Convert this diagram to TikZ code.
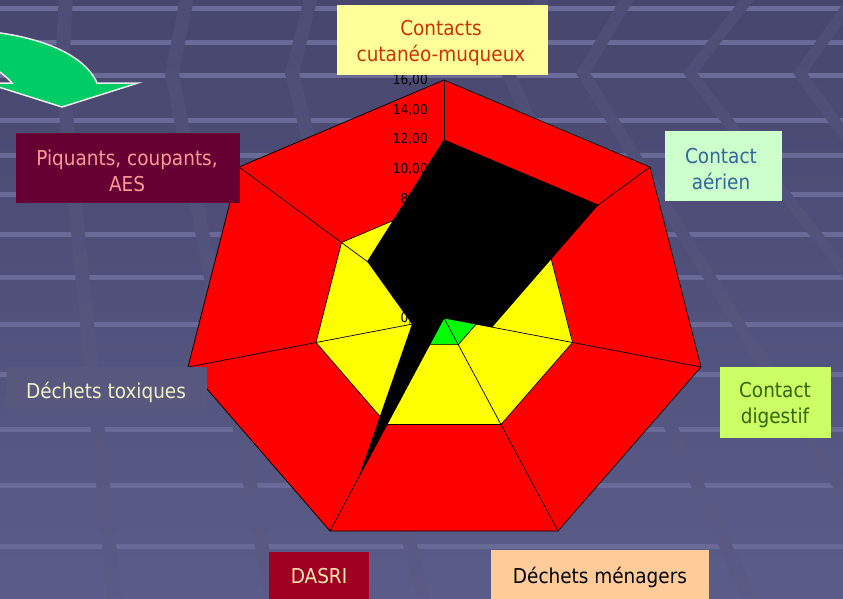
\documentclass[tikz,border=0pt]{standalone}
\usepackage{fontspec}
\setmainfont{DejaVu Sans}[FakeStretch=0.9]
\usetikzlibrary{calc}
\definecolor{bgtop}{HTML}{46466E}
\definecolor{bgbot}{HTML}{5C5C8A}
\definecolor{stripe}{HTML}{6A6A98}
\definecolor{bandtop}{HTML}{4D4D76}
\definecolor{bandbot}{HTML}{5A5A84}
\definecolor{arrowgreen}{HTML}{00CC66}
\definecolor{arrowedge}{HTML}{EBEBEB}
\definecolor{chartred}{HTML}{FF0000}
\definecolor{chartyellow}{HTML}{FFFF00}
\definecolor{chartgreen}{HTML}{00FF00}
\definecolor{cutfill}{HTML}{FFFF99}
\definecolor{cuttext}{HTML}{CC3300}
\definecolor{aerfill}{HTML}{CCFFCC}
\definecolor{aertext}{HTML}{336699}
\definecolor{digfill}{HTML}{CCFF66}
\definecolor{digtext}{HTML}{336600}
\definecolor{menfill}{HTML}{FFCC99}
\definecolor{dasfill}{HTML}{A00022}
\definecolor{dastext}{HTML}{FFE8B0}
\definecolor{toxfill}{HTML}{58587F}
\definecolor{toxtext}{HTML}{F0F0C8}
\definecolor{piqfill}{HTML}{660033}
\definecolor{piqtext}{HTML}{FF9999}
\tikzset{
  box/.style={inner sep=0pt, outer sep=0pt},
  lbl/.style={font=\fontsize{20.5}{26}\selectfont, align=center, inner sep=0pt},
  tick/.style={font=\fontsize{13.6}{14}\selectfont, anchor=east, inner sep=0pt},
  web/.style={draw=black, line width=0.7pt},
  band/.style={top color=bandtop, bottom color=bandbot},
}
\begin{document}
\begin{tikzpicture}[x=1pt,y=-1pt]
\useasboundingbox (0,0) rectangle (843,598);
% background
\shade[top color=bgtop,bottom color=bgbot] (0,0) rectangle (843,598);
\foreach \y in {6,40,73,118,153,192,232,275,322,372,427,483,544}
  \fill[stripe] (0,\y) rectangle (843,\y+5);
% chevron bands: vertex x at y=73, upper slope, lower slope
\foreach \v/\u/\s in {62/0.05/0.1, 172/0.2/0.19, 292/0.25/0.25, 508/0.46/0.46, 583/0.6/0.62, 690/0.78/0.78, 800/0.72/0.72}
  \shade[band] ({\v+\u*73-7},0) -- ({\v-7},73) -- ({\v+\s*525-7},598)
    -- ({\v+\s*525+7},598) -- ({\v+7},73) -- ({\v+\u*73+7},0) -- cycle;
% chart axes
\coordinate (C) at (444,318);
\coordinate (A0) at (444,80);
\coordinate (A1) at (650,167);
\coordinate (A2) at (701,367);
\coordinate (A3) at (558,531);
\coordinate (A4) at (330,531);
\coordinate (A5) at (188,367);
\coordinate (A6) at (239,167);
\fill[chartred] (A0) \foreach \i in {1,...,6}{ -- (A\i) } -- cycle;
\draw[web] (A0) \foreach \i in {1,...,6}{ -- (A\i) } -- cycle;
\fill[chartyellow] ($(C)!0.5!(A0)$) \foreach \i in {1,...,6}{ -- ($(C)!0.5!(A\i)$) } -- cycle;
\draw[web] ($(C)!0.5!(A0)$) \foreach \i in {1,...,6}{ -- ($(C)!0.5!(A\i)$) } -- cycle;
\fill[chartgreen] ($(C)!0.125!(A0)$) \foreach \i in {1,...,6}{ -- ($(C)!0.125!(A\i)$) } -- cycle;
\draw[web] ($(C)!0.125!(A0)$) \foreach \i in {1,...,6}{ -- ($(C)!0.125!(A\i)$) } -- cycle;
\foreach \i in {0,...,6} \draw[web] (C) -- (A\i);
\foreach \v in {0,2,...,16} \node[tick] (t\v) at (428,{318-\v*14.875}) {\v,00};
\foreach \i/\f in {0/0.75,1/0.75,2/0.1875,3/0,4/0.75,5/0.125,6/0.375}
  \coordinate (B\i) at ($(C)!\f!(A\i)$);
\fill[black] (B0) -- (B1) -- (B2) -- (B3) -- (B4) -- (B5) -- (B6) -- cycle;
% label boxes
\node[box, fill=cutfill, minimum width=211pt, minimum height=70pt] (cut) at (442.5,40) {};
\node[lbl, text=cuttext] (cuttxt) at (441,43) {Contacts\\cutanéo-muqueux};
\node[box, fill=aerfill, minimum width=117pt, minimum height=70pt] (aer) at (723.5,166) {};
\node[lbl, text=aertext] (aertxt) at (721,169) {Contact\\aérien};
\node[box, fill=digfill, minimum width=111pt, minimum height=71pt] (dig) at (775.5,402.5) {};
\node[lbl, text=digtext] (digtxt) at (775,405) {Contact\\digestif};
\node[box, fill=menfill, minimum width=218pt, minimum height=52pt] (men) at (600,576) {};
\node[lbl, text=black] (mentxt) at (600,577) {Déchets ménagers};
\node[box, fill=dasfill, minimum width=100pt, minimum height=48pt] (das) at (319,576) {};
\node[lbl, text=dastext] (dastxt) at (319,576) {DASRI};
\node[box, fill=toxfill, minimum width=200pt, minimum height=43pt] (tox) at (107,388.5) {};
\node[lbl, text=toxtext] (toxtxt) at (106,392) {Déchets toxiques};
\node[box, fill=piqfill, minimum width=224pt, minimum height=70pt] (piq) at (128,168) {};
\node[lbl, text=piqtext] (piqtxt) at (127,171) {Piquants, coupants,\\AES};
% green arrow
\fill[arrowgreen, draw=arrowedge, line width=1.5pt]
  (-30,30) .. controls (40,34) and (85,55) .. (97,83) -- (138,83) -- (62,107)
  -- (-14,83) -- (12,83) .. controls (6,76) and (-5,66) .. (-30,58) -- cycle;
\end{tikzpicture}
\end{document}
